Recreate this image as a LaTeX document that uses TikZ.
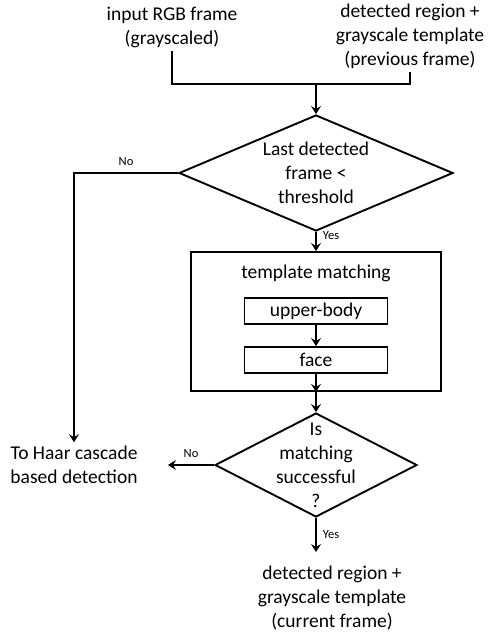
\documentclass[tikz,border=0pt]{standalone}
\usepackage{fontspec}
\setmainfont{Carlito}
\usetikzlibrary{shapes.geometric,arrows.meta}
\begin{document}
\begin{tikzpicture}[x=1pt, y=-1pt, line width=1.9pt,
   txt/.style = {align=center, font=\fontsize{19.5}{24}\selectfont, inner sep=3pt},
   lbl/.style = {font=\fontsize{12.5}{15}\selectfont, inner sep=2pt},
   decision/.style = {draw, diamond, inner sep=0pt},
   box/.style = {draw, rectangle, inner sep=0pt},
   arr/.style = {-{Stealth[length=8pt, width=10pt, inset=3pt]}}]
   \useasboundingbox (0,0) rectangle (487,634);
   \node[txt] (inRGB) at (172,27) {input RGB frame\\(grayscaled)};
   \node[txt] (prevT) at (410,36) {detected region +\\grayscale template\\(previous frame)};
   \coordinate (merge) at (316,84);
   \node[decision, minimum width=274pt, minimum height=116pt] (d1) at (316,173) {};
   \node[txt] (d1txt) at (d1) {Last detected\\frame <\\threshold};
   \node[box, minimum width=250pt, minimum height=139pt] (tm) at (316,321.5) {};
   \node[txt] (tmtxt) at (316,273) {template matching};
   \node[box, txt, inner sep=0pt, minimum width=143pt, minimum height=26pt] (ub) at (316,311) {upper-body};
   \node[box, txt, inner sep=0pt, minimum width=143pt, minimum height=26pt] (face) at (316,360) {face};
   \node[decision, minimum width=202pt, minimum height=104pt] (d2) at (316,465) {};
   \node[txt] (d2txt) at (d2) {Is\\matching\\successful\\?};
   \node[txt] (haar) at (74,465) {To Haar cascade\\based detection};
   \coordinate (haarin) at (168,465);
   \node[txt] (cur) at (332,598) {detected region +\\grayscale template\\(current frame)};
   \coordinate (curin) at (316,552);
   \draw (inRGB) |- (merge);
   \draw (prevT) |- (merge);
   \draw[arr] (merge) -- (d1);
   \draw[arr] (d1) -| node[lbl, pos=0.25, above, yshift=4pt] {No} (haar);
   \draw[arr] (d1) -- node[lbl, pos=0.2, right, xshift=4pt] {Yes} (tm);
   \draw[arr] (ub) -- (face);
   \draw[arr] (face) -- (tm.south);
   \draw[arr] (tm) -- (d2);
   \draw[arr] (d2) -- node[lbl, above, yshift=4pt] {No} (haarin);
   \draw[arr] (d2) -- node[lbl, right, xshift=4pt] {Yes} (curin);
\end{tikzpicture}
\end{document}
